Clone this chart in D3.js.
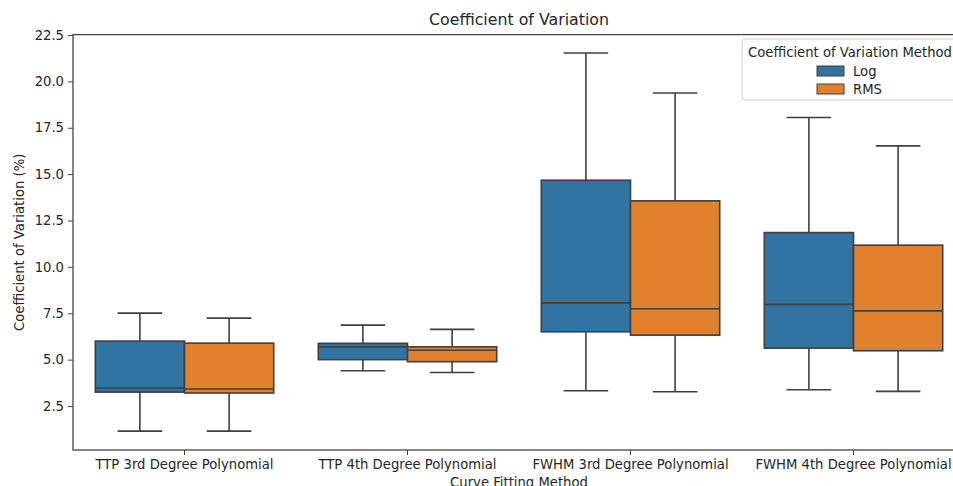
<!DOCTYPE html>
<html>
<head>
<meta charset="utf-8">
<script src="https://cdn.jsdelivr.net/npm/d3@7"></script>
<style>
  body { margin: 0; background: #fff; overflow: hidden; }
  text { font-family: "DejaVu Sans", sans-serif; fill: #262626; }
</style>
</head>
<body>
<script>
(function(){
//chart data
var categories = ["TTP 3rd Degree Polynomial", "TTP 4th Degree Polynomial", "FWHM 3rd Degree Polynomial", "FWHM 4th Degree Polynomial"];
var methods = ["Log", "RMS"];
var yTicks = [2.5, 5.0, 7.5, 10.0, 12.5, 15.0, 17.5, 20.0, 22.5];

var logWhiskerLow  = [1.15, 4.40, 3.32, 3.38];
var logQ1          = [3.25, 5.00, 6.50, 5.62];
var logMedian      = [3.47, 5.69, 8.06, 7.98];
var logQ3          = [6.00, 5.88, 14.67, 11.85];
var logWhiskerHigh = [7.51, 6.86, 21.53, 18.05];

var rmsWhiskerLow  = [1.15, 4.31, 3.27, 3.29];
var rmsQ1          = [3.20, 4.89, 6.32, 5.48];
var rmsMedian      = [3.42, 5.51, 7.74, 7.63];
var rmsQ3          = [5.89, 5.69, 13.56, 11.17];
var rmsWhiskerHigh = [7.24, 6.63, 19.37, 16.52];

var colors = {"Log": "#3274a1", "RMS": "#e1812c"};
var lineColor = "#3f3f3f";

var width = 953, height = 486;
var plotLeft = 73, plotRight = 965, plotTop = 34.6, plotBottom = 450;
var fs = 13.2;

//build box records from the arrays
var boxes = [];
categories.forEach(function(c, i){
    boxes.push({cat: c, method: "Log", lo: logWhiskerLow[i], q1: logQ1[i], med: logMedian[i], q3: logQ3[i], hi: logWhiskerHigh[i]});
    boxes.push({cat: c, method: "RMS", lo: rmsWhiskerLow[i], q1: rmsQ1[i], med: rmsMedian[i], q3: rmsQ3[i], hi: rmsWhiskerHigh[i]});
});

var svg = d3.select("body").append("svg")
    .attr("width", width)
    .attr("height", height);

var x = d3.scaleBand().domain(categories).range([plotLeft, plotRight]).padding(0);
var xInner = d3.scaleBand().domain(methods)
    .range([x.bandwidth() * 0.1, x.bandwidth() * 0.9]).padding(0);
var y = d3.scaleLinear().domain([0.13, 22.52]).range([plotBottom, plotTop]);

//boxes
var g = svg.selectAll(".box")
    .data(boxes)
    .enter()
    .append("g")
    .attr("class", "box")
    .attr("transform", function(d){ return "translate(" + (x(d.cat) + xInner(d.method)) + ",0)"; });

var bw = xInner.bandwidth();

g.append("line")
    .attr("x1", bw / 2).attr("x2", bw / 2)
    .attr("y1", function(d){ return y(d.hi); })
    .attr("y2", function(d){ return y(d.q3); })
    .attr("stroke", lineColor).attr("stroke-width", 1.6);
g.append("line")
    .attr("x1", bw / 2).attr("x2", bw / 2)
    .attr("y1", function(d){ return y(d.q1); })
    .attr("y2", function(d){ return y(d.lo); })
    .attr("stroke", lineColor).attr("stroke-width", 1.6);
g.append("line")
    .attr("x1", bw / 4).attr("x2", bw * 3 / 4)
    .attr("y1", function(d){ return y(d.hi); })
    .attr("y2", function(d){ return y(d.hi); })
    .attr("stroke", lineColor).attr("stroke-width", 1.6);
g.append("line")
    .attr("x1", bw / 4).attr("x2", bw * 3 / 4)
    .attr("y1", function(d){ return y(d.lo); })
    .attr("y2", function(d){ return y(d.lo); })
    .attr("stroke", lineColor).attr("stroke-width", 1.6);
g.append("rect")
    .attr("x", 0)
    .attr("width", bw)
    .attr("y", function(d){ return y(d.q3); })
    .attr("height", function(d){ return y(d.q1) - y(d.q3); })
    .attr("fill", function(d){ return colors[d.method]; })
    .attr("stroke", lineColor).attr("stroke-width", 1.6);
g.append("line")
    .attr("x1", 0).attr("x2", bw)
    .attr("y1", function(d){ return y(d.med); })
    .attr("y2", function(d){ return y(d.med); })
    .attr("stroke", lineColor).attr("stroke-width", 1.6);

//axes
var yAxis = d3.axisLeft(y).tickValues(yTicks).tickFormat(d3.format(".1f")).tickSize(5).tickPadding(4);
var yg = svg.append("g").attr("transform", "translate(" + plotLeft + ",0)").call(yAxis);
yg.select(".domain").remove();
yg.selectAll("line").attr("stroke", "#444");
yg.selectAll("text").attr("font-size", fs).attr("fill", "#262626").attr("font-family", "DejaVu Sans");

var xAxis = d3.axisBottom(x).tickSize(5).tickPadding(5);
var xg = svg.append("g").attr("transform", "translate(0," + plotBottom + ")").call(xAxis);
xg.select(".domain").remove();
xg.selectAll("line").attr("stroke", "#444");
xg.selectAll("text").attr("font-size", fs).attr("fill", "#262626").attr("font-family", "DejaVu Sans");

//frame
svg.append("rect")
    .attr("x", plotLeft).attr("y", plotTop)
    .attr("width", plotRight - plotLeft).attr("height", plotBottom - plotTop)
    .attr("fill", "none").attr("stroke", "#444").attr("stroke-width", 1.3);

//titles
svg.append("text")
    .attr("x", (plotLeft + plotRight) / 2).attr("y", 25)
    .attr("text-anchor", "middle").attr("font-size", 15.8)
    .text("Coefficient of Variation");

svg.append("text")
    .attr("transform", "translate(24," + ((plotTop + plotBottom) / 2) + ") rotate(-90)")
    .attr("text-anchor", "middle").attr("font-size", fs)
    .text("Coefficient of Variation (%)");

svg.append("text")
    .attr("x", (plotLeft + plotRight) / 2).attr("y", 487)
    .attr("text-anchor", "middle").attr("font-size", fs)
    .text("Curve Fitting Method");

//legend
var legend = svg.append("g").attr("transform", "translate(742,39)");
legend.append("rect")
    .attr("width", 216).attr("height", 61).attr("rx", 3)
    .attr("fill", "#fff").attr("fill-opacity", 0.8)
    .attr("stroke", "#d0d0d0");
legend.append("text")
    .attr("x", 6).attr("y", 18)
    .attr("font-size", fs)
    .text("Coefficient of Variation Method");
var items = legend.selectAll(".item")
    .data(methods)
    .enter()
    .append("g")
    .attr("class", "item")
    .attr("transform", function(d, i){ return "translate(75," + (27 + i * 18) + ")"; });
items.append("rect")
    .attr("width", 27).attr("height", 10)
    .attr("fill", function(d){ return colors[d]; })
    .attr("stroke", lineColor).attr("stroke-width", 1);
items.append("text")
    .attr("x", 36).attr("y", 10)
    .attr("font-size", fs)
    .text(function(d){ return d; });
})();
</script>
</body>
</html>
